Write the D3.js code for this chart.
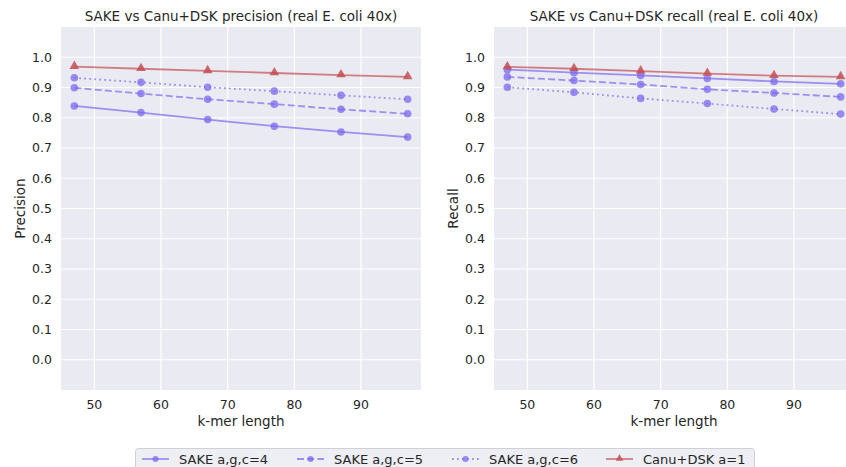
<!DOCTYPE html>
<html>
<head>
<meta charset="utf-8">
<script src="https://cdn.jsdelivr.net/npm/d3@7"></script>
<style>
  body { margin: 0; background: #fff; }
  text { font-family: "DejaVu Sans", sans-serif; fill: #262626; }
</style>
</head>
<body>
<svg class="plot" width="846" height="467"></svg>
<script>
const kmers = [47, 57, 67, 77, 87, 97]
const xTicks = [50, 60, 70, 80, 90]
const yTicks = [0, 0.1, 0.2, 0.3, 0.4, 0.5, 0.6, 0.7, 0.8, 0.9, 1.0]

const precC4 = [0.839, 0.817, 0.794, 0.772, 0.753, 0.736]
const precC5 = [0.899, 0.880, 0.861, 0.845, 0.828, 0.813]
const precC6 = [0.932, 0.917, 0.901, 0.888, 0.874, 0.861]
const precCanu = [0.969, 0.962, 0.955, 0.948, 0.941, 0.935]

const recC4 = [0.959, 0.949, 0.940, 0.930, 0.920, 0.912]
const recC5 = [0.935, 0.923, 0.910, 0.894, 0.882, 0.869]
const recC6 = [0.901, 0.884, 0.864, 0.847, 0.829, 0.812]
const recCanu = [0.968, 0.962, 0.954, 0.946, 0.939, 0.935]

const labels = ["SAKE a,g,c=4", "SAKE a,g,c=5", "SAKE a,g,c=6", "Canu+DSK a=1"]

const purple = "#7b68ee"
const red = "#c44e52"
// one style per series, same order as labels
const styles = [
  { color: purple, dash: null, marker: "circle" },
  { color: purple, dash: "7,3.2", marker: "circle" },
  { color: purple, dash: "1.8,3.2", marker: "circle" },
  { color: red, dash: null, marker: "triangle" }
]

const panels = [
  { left: 61, title: "SAKE vs Canu+DSK precision (real E. coli 40x)", ylabel: "Precision",
    series: [precC4, precC5, precC6, precCanu] },
  { left: 494, title: "SAKE vs Canu+DSK recall (real E. coli 40x)", ylabel: "Recall",
    series: [recC4, recC5, recC6, recCanu] }
]

const plotTop = 27, plotW = 360, plotH = 363

function drawMarker(g, kind, color, cx, cy, scale = 1) {
  if (kind === "circle") {
    g.append("circle").attr("cx", cx).attr("cy", cy).attr("r", 3.8 * scale)
      .attr("fill", color).attr("fill-opacity", 0.75)
  } else {
    const sym = d3.symbol().type(d3.symbolTriangle).size(40 * scale * scale)
    g.append("path").attr("d", sym())
      .attr("transform", `translate(${cx},${cy - 0.5})`)
      .attr("fill", color).attr("fill-opacity", 0.85)
  }
}

function renderPanel(svg, p) {
  const x = d3.scaleLinear().domain([45, 99]).range([0, plotW])
  const y = d3.scaleLinear().domain([-0.1, 1.1]).range([plotH, 0])

  const g = svg.append("g").attr("transform", `translate(${p.left},${plotTop})`)

  g.append("rect").attr("width", plotW).attr("height", plotH).attr("fill", "#eaeaf2")

  g.selectAll(".vgrid").data(xTicks).enter().append("line")
    .attr("x1", d => x(d)).attr("x2", d => x(d))
    .attr("y1", 0).attr("y2", plotH)
    .attr("stroke", "#fff").attr("stroke-width", 1.2)

  g.selectAll(".hgrid").data(yTicks).enter().append("line")
    .attr("x1", 0).attr("x2", plotW)
    .attr("y1", d => y(d)).attr("y2", d => y(d))
    .attr("stroke", "#fff").attr("stroke-width", 1.2)

  // tick labels
  g.selectAll(".xt").data(xTicks).enter().append("text")
    .attr("x", d => x(d)).attr("y", plotH + 19)
    .attr("text-anchor", "middle").style("font-size", "12.5px")
    .text(d => d)

  g.selectAll(".yt").data(yTicks).enter().append("text")
    .attr("x", -9).attr("y", d => y(d))
    .attr("dy", "0.35em")
    .attr("text-anchor", "end").style("font-size", "12.5px")
    .text(d => d.toFixed(1))

  // X-axis label
  g.append("text")
    .attr("x", plotW / 2).attr("y", plotH + 36)
    .attr("text-anchor", "middle").style("font-size", "13.5px")
    .text("k-mer length")

  // Y-axis label
  g.append("text")
    .attr("transform", "rotate(-90)")
    .attr("x", -plotH / 2).attr("y", -36)
    .attr("text-anchor", "middle").style("font-size", "13.5px")
    .text(p.ylabel)

  g.append("text")
    .attr("x", plotW / 2).attr("y", -6)
    .attr("text-anchor", "middle").style("font-size", "13.5px")
    .text(p.title)

  const line = d3.line().x((d, i) => x(kmers[i])).y(d => y(d))

  p.series.forEach((vals, si) => {
    const st = styles[si]
    g.append("path")
      .datum(vals)
      .attr("fill", "none")
      .attr("stroke", st.color)
      .attr("stroke-opacity", 0.7)
      .attr("stroke-width", 1.8)
      .attr("stroke-dasharray", st.dash)
      .attr("d", line)
    vals.forEach((v, i) => drawMarker(g, st.marker, st.color, x(kmers[i]), y(v)))
  })
}

function renderLegend(svg) {
  const lg = svg.append("g").attr("transform", "translate(135,448)")
  lg.append("rect").attr("x", 0.5).attr("y", 0.5).attr("width", 619).attr("height", 28)
    .attr("rx", 3)
    .attr("fill", "#eeeef5").attr("stroke", "#cfcfd4")

  const offsets = [0, 155, 310, 464]
  labels.forEach((lab, i) => {
    const st = styles[i]
    const ox = offsets[i]
    lg.append("line")
      .attr("x1", ox + 7).attr("x2", ox + 34)
      .attr("y1", 11).attr("y2", 11)
      .attr("stroke", st.color).attr("stroke-opacity", 0.7)
      .attr("stroke-width", 1.8).attr("stroke-dasharray", st.dash)
    drawMarker(lg, st.marker, st.color, ox + 20.5, 11, 0.8)
    lg.append("text")
      .attr("x", ox + 44).attr("y", 11).attr("dy", "0.35em")
      .style("font-size", "13px")
      .text(lab)
  })
}

const svg = d3.select(".plot")
panels.forEach(p => renderPanel(svg, p))
renderLegend(svg)
</script>
</body>
</html>
